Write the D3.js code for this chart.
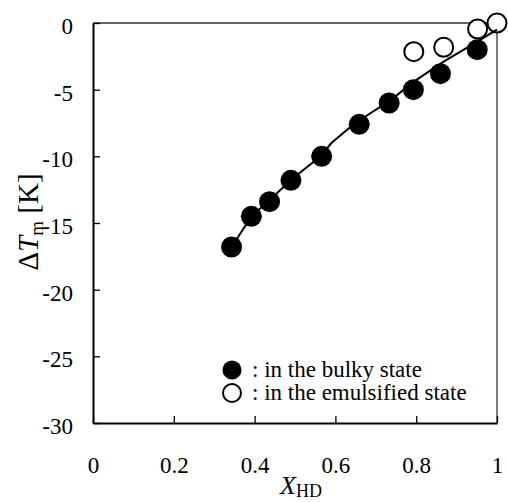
<!DOCTYPE html>
<html>
<head>
<meta charset="utf-8">
<script src="https://cdn.jsdelivr.net/npm/d3@7"></script>
<style>
  body { margin: 0; background: #fff; }
  svg, svg text { font-family: "Liberation Serif", "Times New Roman", "DejaVu Serif", serif !important; }
</style>
</head>
<body>
<div id="chart"></div>
<script>
// bulky state (filled circles)
const bulkyX = [0.343, 0.392, 0.437, 0.490, 0.566, 0.659, 0.733, 0.793, 0.860, 0.951];
const bulkyY = [-16.8, -14.5, -13.4, -11.8, -10.0, -7.6, -6.0, -5.0, -3.8, -2.0];

// emulsified state (open circles)
const emulX = [0.794, 0.868, 0.952, 1.0];
const emulY = [-2.15, -1.82, -0.45, 0.0];

// fitted curve
const curveX = [0.343, 0.392, 0.437, 0.489, 0.563, 0.59, 0.637, 0.68, 0.736, 0.794, 0.868, 0.951, 1.0];
const curveY = [-16.8, -14.5, -13.3, -11.8, -10.0, -9.0, -7.8, -6.9, -5.8, -4.4, -2.9, -1.4, -0.5];

const xTicks = [0, 0.2, 0.4, 0.6, 0.8, 1];
const yTicks = [0, -5, -10, -15, -20, -25, -30];

const legendLabels = [": in the bulky state", ": in the emulsified state"];

const serif = "Liberation Serif, Times New Roman, DejaVu Serif, serif";
const width = 508;
const height = 502;
const margin = { left: 93, right: 11, top: 23, bottom: 79 };
const plotW = width - margin.left - margin.right;
const plotH = height - margin.top - margin.bottom;

const svg = d3.select("#chart")
  .append("svg")
  .attr("width", width)
  .attr("height", height)
  .attr("font-family", serif);

const g = svg.append("g")
  .attr("transform", `translate(${margin.left},${margin.top})`);

const x = d3.scaleLinear().domain([0, 1]).range([0, plotW]);
const y = d3.scaleLinear().domain([-30, 0]).range([plotH, 0]);

// top and right frame (thin)
g.append("path")
  .attr("d", `M0,0H${plotW}V${plotH}`)
  .attr("fill", "none")
  .attr("stroke", "#333")
  .attr("stroke-width", 1.3);

// y axis
const yAxis = g.append("g")
  .call(d3.axisLeft(y).tickValues(yTicks).tickSize(-7).tickSizeOuter(0).tickPadding(20)
    .tickFormat((d) => String(d)))
  .attr("font-family", serif);
yAxis.select(".domain").attr("stroke", "#000").attr("stroke-width", 2);
yAxis.selectAll(".tick line").attr("stroke", "#000").attr("stroke-width", 1.3);
yAxis.selectAll(".tick text")
  .attr("font-size", 23)
  .style("font-family", serif)
  .attr("fill", "#000")
  .attr("dy", "0.45em");

// x axis
const xAxis = g.append("g")
  .attr("transform", `translate(0,${plotH})`)
  .call(d3.axisBottom(x).tickValues(xTicks).tickSize(-7).tickSizeOuter(0).tickPadding(0)
    .tickFormat((d) => String(d)))
  .attr("font-family", serif);
xAxis.select(".domain").attr("stroke", "#000").attr("stroke-width", 2);
xAxis.selectAll(".tick line").attr("stroke", "#000").attr("stroke-width", 1.3);
xAxis.selectAll(".tick text")
  .attr("font-size", 23)
  .style("font-family", serif)
  .attr("fill", "#000")
  .attr("y", 42)
  .attr("dy", "0.35em");

// open circles
g.selectAll("circle.emul")
  .data(emulX.map((d, i) => [d, emulY[i]]))
  .enter()
  .append("circle")
  .attr("class", "emul")
  .attr("cx", (d) => x(d[0]))
  .attr("cy", (d) => y(d[1]))
  .attr("r", 9.5)
  .attr("fill", "#fff")
  .attr("stroke", "#000")
  .attr("stroke-width", 2);

// filled circles
g.selectAll("circle.bulky")
  .data(bulkyX.map((d, i) => [d, bulkyY[i]]))
  .enter()
  .append("circle")
  .attr("class", "bulky")
  .attr("cx", (d) => x(d[0]))
  .attr("cy", (d) => y(d[1]))
  .attr("r", 10.5)
  .attr("fill", "#000");

// curve
const line = d3.line()
  .x((d) => x(d[0]))
  .y((d) => y(d[1]));
g.append("path")
  .datum(curveX.map((d, i) => [d, curveY[i]]))
  .attr("d", line)
  .attr("fill", "none")
  .attr("stroke", "#000")
  .attr("stroke-width", 2);

// legend
const legend = svg.append("g");
legendLabels.forEach((label, i) => {
  const ly = 370 + i * 23;
  legend.append("circle")
    .attr("cx", 232)
    .attr("cy", ly)
    .attr("r", i === 0 ? 9.5 : 9)
    .attr("fill", i === 0 ? "#000" : "#fff")
    .attr("stroke", "#000")
    .attr("stroke-width", i === 0 ? 0 : 2);
  legend.append("text")
    .attr("x", 252)
    .attr("y", ly + 7)
    .attr("font-size", 23)
    .style("font-family", serif)
    .attr("fill", "#000")
    .text(label);
});

// y title: ΔT_m [K]
const yTitle = svg.append("text")
  .attr("transform", "translate(38,222) rotate(-90)")
  .attr("text-anchor", "middle")
  .attr("font-size", 29)
  .style("font-family", serif)
  .attr("fill", "#000");
yTitle.append("tspan").text("Δ");
yTitle.append("tspan").attr("font-style", "italic").text("T");
yTitle.append("tspan").attr("font-size", 19).attr("dy", 5).text("m");
yTitle.append("tspan").attr("dy", -5).text(" [K]");

// x title: X_HD
const xTitle = svg.append("text")
  .attr("x", 301)
  .attr("y", 494)
  .attr("text-anchor", "middle")
  .attr("font-size", 26)
  .style("font-family", serif)
  .attr("fill", "#000");
xTitle.append("tspan").attr("font-style", "italic").text("X");
xTitle.append("tspan").attr("font-size", 18).attr("dy", 3).text("HD");
</script>
</body>
</html>
